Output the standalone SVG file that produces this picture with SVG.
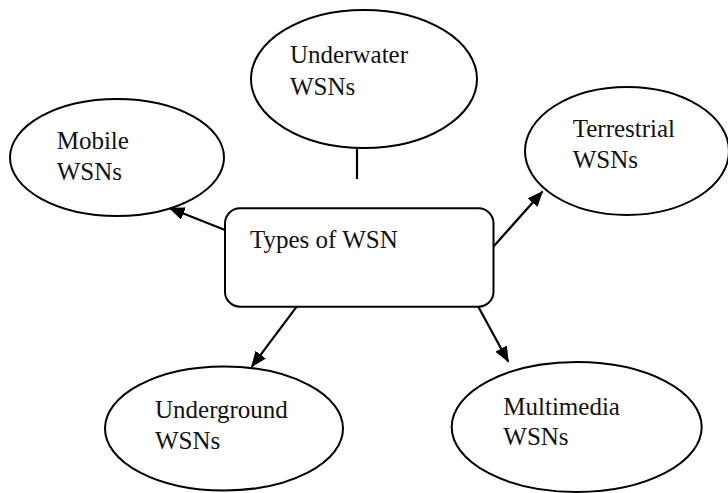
<svg xmlns="http://www.w3.org/2000/svg" width="728" height="493" viewBox="0 0 728 493">
  <style>
    .shape { fill: #ffffff; stroke: #000000; stroke-width: 2; }
    .label { font-family: "Liberation Serif", "Times New Roman", serif; font-size: 25px; fill: #111111; }
    .link { stroke: #000000; stroke-width: 2.2; fill: none; }
    .arrow { marker-end: url(#head); }
  </style>
  <defs>
    <marker id="head" markerUnits="userSpaceOnUse" markerWidth="18" markerHeight="14" refX="15" refY="6.5" orient="auto">
      <path d="M0,0 L16,6.5 L0,13 z" fill="#000000"/>
    </marker>
  </defs>
  <rect width="728" height="493" fill="#ffffff"/>

  <!-- connectors -->
  <g id="connectors">
    <line class="link" x1="357" y1="148" x2="357" y2="179"/>
    <line class="link arrow" x1="225" y1="230" x2="169.5" y2="208"/>
    <line class="link arrow" x1="493.5" y1="246.5" x2="542.5" y2="191.5"/>
    <line class="link arrow" x1="296.7" y1="306.7" x2="251.7" y2="366.7"/>
    <line class="link arrow" x1="478.3" y1="306.7" x2="508.3" y2="361.7"/>
  </g>

  <!-- centre node -->
  <g id="types">
    <rect class="shape" x="225" y="208.3" width="268.5" height="98.4" rx="15" ry="15"/>
    <text class="label" x="250" y="248.3">Types of WSN</text>
  </g>

  <g id="underwater">
    <ellipse class="shape" cx="364" cy="79" rx="113" ry="69"/>
    <text class="label" x="290" y="63.3">Underwater</text>
    <text class="label" x="290" y="95">WSNs</text>
  </g>

  <g id="mobile">
    <ellipse class="shape" cx="117" cy="157.5" rx="107" ry="58.5"/>
    <text class="label" x="56.7" y="149.3">Mobile</text>
    <text class="label" x="56.7" y="180">WSNs</text>
  </g>

  <g id="terrestrial">
    <ellipse class="shape" cx="627" cy="151" rx="102" ry="64"/>
    <text class="label" x="572.7" y="136.7">Terrestrial</text>
    <text class="label" x="572.7" y="168.3">WSNs</text>
  </g>

  <g id="underground">
    <ellipse class="shape" cx="224" cy="428.5" rx="119" ry="62"/>
    <text class="label" x="155" y="418.3">Underground</text>
    <text class="label" x="155" y="449.3">WSNs</text>
  </g>

  <g id="multimedia">
    <ellipse class="shape" cx="576.7" cy="427" rx="125" ry="65"/>
    <text class="label" x="503.3" y="415">Multimedia</text>
    <text class="label" x="503.3" y="445">WSNs</text>
  </g>
</svg>
